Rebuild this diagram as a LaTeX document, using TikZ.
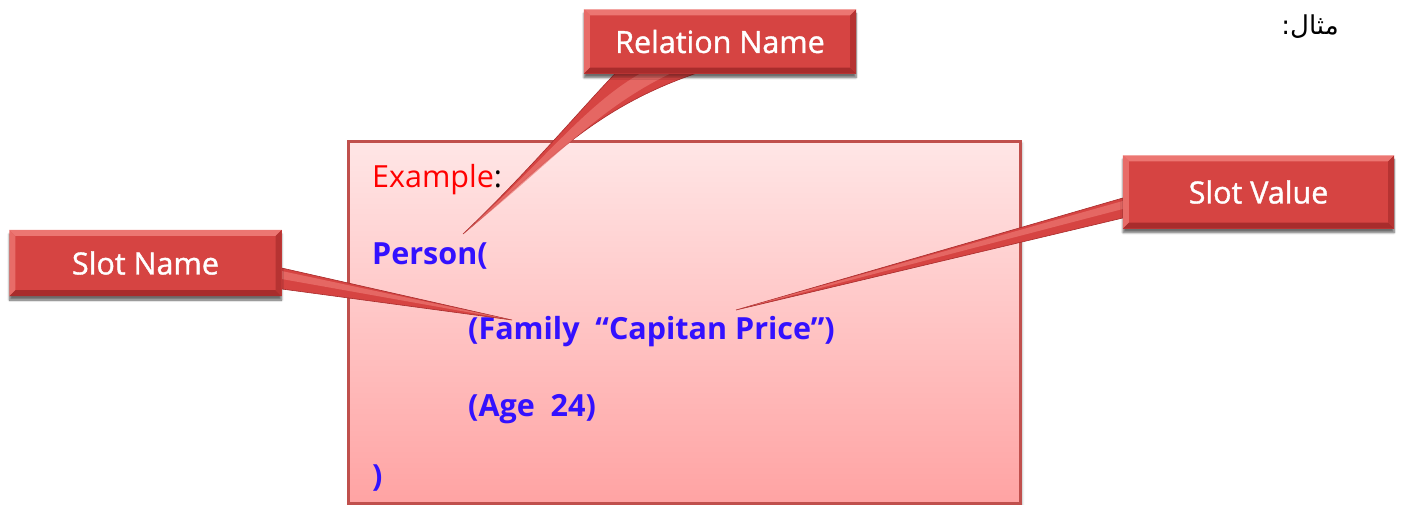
\documentclass[tikz,border=0pt]{standalone}
\usepackage{fontspec}
\setmainfont{Open Sans}
\newfontfamily\calloutfont[FakeBold=1.2]{Open Sans}
\newfontfamily\arabicfont[Script=Arabic]{DejaVu Sans}
\TeXXeTstate=1
\usetikzlibrary{shadows.blur}

\definecolor{calloutred}{RGB}{214,68,66}
\definecolor{calloutlight}{RGB}{236,118,114}
\definecolor{calloutdark}{RGB}{168,44,44}
\definecolor{boxborder}{RGB}{192,80,77}
\definecolor{boxtop}{RGB}{255,230,230}
\definecolor{boxbottom}{RGB}{255,163,163}
\definecolor{codeblue}{RGB}{51,17,255}
\definecolor{examplered}{RGB}{255,0,0}

\tikzset{
  callout/.style={rectangle, fill=calloutred, text=white, inner sep=0pt,
    blur shadow={shadow xshift=0pt, shadow yshift=-4pt, shadow blur steps=6, shadow opacity=35}},
  callouttext/.style={text=white, inner sep=0pt, font=\calloutfont\fontsize{30.5}{32}\selectfont},
  mainbox/.style={rectangle, draw=boxborder, line width=3pt, top color=boxtop,
    bottom color=boxbottom, inner sep=0pt,
    blur shadow={shadow xshift=2pt, shadow yshift=-2pt, shadow blur steps=5, shadow opacity=25}},
  codeline/.style={anchor=base west, inner sep=0pt, text=codeblue,
    font=\fontsize{30.5}{32}\selectfont\bfseries},
  wedge/.style={fill=calloutred, draw=calloutdark, line width=0.6pt},
  gleam/.style={fill=calloutlight, opacity=0.7},
}

% raised edges of a callout box
\newcommand\bevelbox[1]{%
  \fill[calloutlight] (#1.north west) -- (#1.north east) -- ([shift={(-6,-6)}]#1.north east) -- ([shift={(6,-6)}]#1.north west) -- cycle;
  \fill[calloutlight!80!calloutred] (#1.north west) -- ([shift={(6,-6)}]#1.north west) -- ([shift={(6,6)}]#1.south west) -- (#1.south west) -- cycle;
  \fill[calloutdark] (#1.south west) -- ([shift={(6,6)}]#1.south west) -- ([shift={(-6,6)}]#1.south east) -- (#1.south east) -- cycle;
  \fill[calloutdark!70!calloutred] (#1.south east) -- ([shift={(-6,6)}]#1.south east) -- ([shift={(-6,-6)}]#1.north east) -- (#1.north east) -- cycle;
}

\begin{document}
\begin{tikzpicture}[x=1pt, y=1pt]
\useasboundingbox (0,0) rectangle (1402,-504);

% Arabic heading
\node[inner sep=0pt, font=\arabicfont\fontsize{26}{30}\selectfont] (mithal) at (1310,-27) {\beginR مثال:\endR};

% the example frame
\node[mainbox, minimum width=672, minimum height=362] (frame) at (684.5,-322) {};

\node[codeline, text=black, font=\fontsize{30.5}{32}\selectfont] (ex) at (372,-187) {\textcolor{examplered}{Example}:};
\node[codeline] (person) at (372,-264) {Person(};
\node[codeline] (family) at (468,-339) {(Family\ \ “Capitan Price”)};
\node[codeline] (age) at (468,-416) {(Age\ \ 24)};
\node[codeline] (close) at (372,-486) {)};

% callout boxes (placed first so the wedges can refer to them)
\node[callout, minimum width=272, minimum height=64] (rel) at (720,-41.5) {};
\node[callout, minimum width=272, minimum height=66] (sname) at (145.5,-263) {};
\node[callout, minimum width=271, minimum height=73] (svalue) at (1258.5,-192) {};

% pointer tips
\coordinate (reltip) at (463,-234);
\coordinate (snametip) at (512,-320);
\coordinate (svaluetip) at (736,-310);

% wedges
\fill[wedge] ([xshift=-105]rel.south) .. controls (580,-110) and (530,-170) .. (reltip)
  .. controls (545,-165) and (590,-110) .. ([xshift=-25]rel.south) -- cycle;
\fill[gleam] ([xshift=-80]rel.south) .. controls (585,-105) and (540,-165) .. (reltip)
  .. controls (555,-160) and (595,-110) .. ([xshift=-50]rel.south) -- cycle;

\fill[wedge] ([yshift=-5]sname.east) -- (snametip) -- ([yshift=-26]sname.east) -- cycle;
\fill[gleam] ([yshift=-8]sname.east) -- (snametip) -- ([yshift=-16]sname.east) -- cycle;

\fill[wedge] ([yshift=-6]svalue.west) -- (svaluetip) -- ([yshift=-26]svalue.west) -- cycle;
\fill[gleam] ([yshift=-9]svalue.west) -- (svaluetip) -- ([yshift=-17]svalue.west) -- cycle;

% callout faces drawn over the wedge bases
\node[callout, minimum width=272, minimum height=64] (relface) at (rel) {};
\node[callout, minimum width=272, minimum height=66] (snameface) at (sname) {};
\node[callout, minimum width=271, minimum height=73] (svalueface) at (svalue) {};
\bevelbox{relface}
\bevelbox{snameface}
\bevelbox{svalueface}
\node[callouttext] (reltext) at (relface) {Relation Name};
\node[callouttext] (snametext) at (snameface) {Slot Name};
\node[callouttext] (svaluetext) at (svalueface) {Slot Value};
\end{tikzpicture}
\end{document}
